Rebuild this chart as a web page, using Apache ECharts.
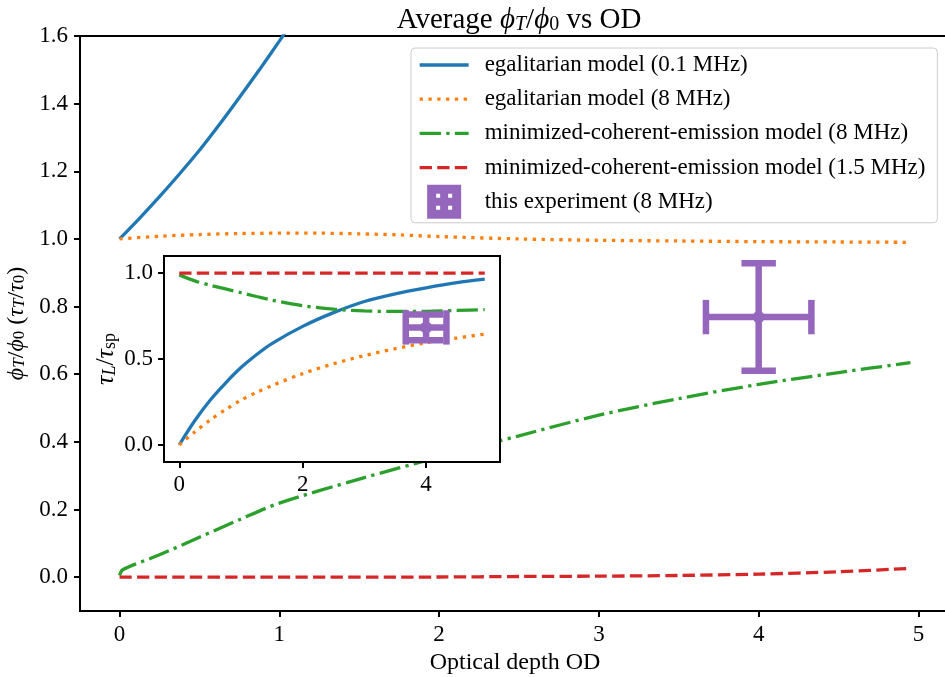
<!DOCTYPE html>
<html><head><meta charset="utf-8">
<script src="https://cdn.jsdelivr.net/npm/echarts@6/dist/echarts.min.js"></script>
<style>html,body{margin:0;padding:0;background:#fff}#c{width:945px;height:677px}</style>
</head><body><div id="c"></div>
<script>
// ---------- data ----------
// main axes: average phi_T/phi_0 vs optical depth
const odBlueMain   = [0, 0.125, 0.25, 0.375, 0.5, 0.625, 0.75, 0.875, 1.0, 1.125, 1.25];
const egal01Main   = [1.0, 1.061, 1.125, 1.192, 1.262, 1.338, 1.418, 1.5, 1.585, 1.672, 1.76];
const odOrangeMain = [0, 0.25, 0.5, 0.75, 1, 1.25, 1.5, 1.75, 2, 2.5, 3, 3.5, 4, 4.5, 4.95];
const egal8Main    = [1.0, 1.008, 1.013, 1.016, 1.017, 1.017, 1.015, 1.012, 1.007, 1.0, 0.996, 0.994, 0.992, 0.991, 0.99];
const odGreenMain  = [0, 0.02, 0.25, 0.5, 0.75, 1, 1.5, 2, 2.5, 3, 3.5, 4, 4.5, 4.95];
const mce8Main     = [0.005, 0.022, 0.066, 0.118, 0.17, 0.219, 0.29, 0.355, 0.418, 0.479, 0.528, 0.57, 0.605, 0.634];
const odRedMain    = [0, 1, 2, 2.5, 3, 3.5, 4, 4.5, 4.95];
const mce15Main    = [0, 0, 0.0005, 0.002, 0.003, 0.005, 0.009, 0.016, 0.026];
const expMain      = [[4.0, 0.769, 0.33, 0.159]]; // [OD, value, OD error, value error]

// inset: tau_L / tau_sp vs optical depth
const odInset      = [0, 0.25, 0.5, 0.75, 1, 1.25, 1.5, 2, 2.5, 3, 3.5, 4, 4.5, 4.95];
const egal01Inset  = [0, 0.14, 0.26, 0.36, 0.45, 0.525, 0.59, 0.69, 0.77, 0.835, 0.88, 0.915, 0.945, 0.965];
const egal8Inset   = [0, 0.075, 0.145, 0.205, 0.26, 0.305, 0.345, 0.415, 0.472, 0.52, 0.56, 0.595, 0.622, 0.645];
const mce8Inset    = [0.99, 0.955, 0.93, 0.908, 0.886, 0.864, 0.843, 0.81, 0.79, 0.78, 0.777, 0.778, 0.783, 0.788];
const odRedInset   = [0, 4.95];
const mce15Inset   = [1.0, 1.0];
const expInset     = [[4.0, 0.684, 0.33, 0.075]];

// ticks
const xTicksMain  = [0, 1, 2, 3, 4, 5];
const yTicksMain  = [0, 0.2, 0.4, 0.6, 0.8, 1.0, 1.2, 1.4, 1.6];
const xTicksInset = [0, 2, 4];
const yTicksInset = [0, 0.5, 1.0];

const names = [
  'egalitarian model (0.1 MHz)',
  'egalitarian model (8 MHz)',
  'minimized-coherent-emission model (8 MHz)',
  'minimized-coherent-emission model (1.5 MHz)',
  'this experiment (8 MHz)'
];

// ---------- styling ----------
const FONT = '"Liberation Serif", "DejaVu Serif", serif';
const C = { blue: '#1f77b4', orange: '#ff7f0e', green: '#2ca02c', red: '#d62728', purple: '#9467bd' };
const LW = 3.3;
const DASH = { dotted: [3.3, 5.5], dashed: [12.3, 5.3], dashdot: [21.3, 5.3, 3.3, 5.3] };

const pairs = (xs, ys) => xs.map((x, i) => [x, ys[i]]);

function richSet(fs, sfs) {
  return {
    r:   { fontFamily: FONT, fontSize: fs, lineHeight: fs, verticalAlign: 'middle', color: '#000' },
    mi:  { fontFamily: FONT, fontSize: fs, lineHeight: fs, verticalAlign: 'middle', fontStyle: 'italic', color: '#000' },
    sub: { fontFamily: FONT, fontSize: sfs, lineHeight: Math.round(fs * 0.38), verticalAlign: 'bottom', fontStyle: 'italic', color: '#000' },
    sub0:{ fontFamily: FONT, fontSize: sfs, lineHeight: Math.round(fs * 0.38), verticalAlign: 'bottom', color: '#000' }
  };
}

function errorBarRender(params, api) {
  const x = api.value(0), y = api.value(1), ex = api.value(2), ey = api.value(3);
  const c = api.coord([x, y]);
  const l = api.coord([x - ex, y]), r = api.coord([x + ex, y]);
  const t = api.coord([x, y + ey]), b = api.coord([x, y - ey]);
  const cap = 17.2;
  const st = { stroke: C.purple, lineWidth: 6.5 };
  const ln = (x1, y1, x2, y2) => ({ type: 'line', shape: { x1, y1, x2, y2 }, style: st });
  return {
    type: 'group',
    children: [
      ln(l[0], c[1], r[0], c[1]),
      ln(c[0], t[1], c[0], b[1]),
      ln(c[0] - cap, t[1], c[0] + cap, t[1]),
      ln(c[0] - cap, b[1], c[0] + cap, b[1]),
      ln(l[0], c[1] - cap, l[0], c[1] + cap),
      ln(r[0], c[1] - cap, r[0], c[1] + cap),
      { type: 'circle', shape: { cx: c[0], cy: c[1], r: 6 }, style: { fill: C.purple } }
    ]
  };
}

function lineSeries(name, data, color, dash, axisIdx, z) {
  return {
    type: 'line', name, data, xAxisIndex: axisIdx, yAxisIndex: axisIdx,
    symbol: 'none', z, clip: true, smooth: 0.3,
    lineStyle: { color, width: LW, type: dash || 'solid' },
    itemStyle: { color }
  };
}

const tickStyle = { show: true, length: 6, lineStyle: { color: '#000', width: 2 } };
const labelBase = { fontFamily: FONT, fontSize: 23, color: '#000' };

const ERR_ICON = 'path://M0,0H34V34H0Z M9,9V13H13V9Z M21,9V13H25V9Z M9,21V25H13V21Z M21,21V25H25V21Z';

const option = {
  animation: false,
  backgroundColor: '#fff',
  title: {
    text: '{r|Average }{mi|ϕ}{sub|T}{r|/}{mi|ϕ}{sub0|0}{r| vs OD}',
    left: 514, top: 1, textAlign: 'center',
    textStyle: { fontFamily: FONT, fontSize: 29, fontWeight: 'normal', color: '#000', rich: richSet(29, 20) }
  },
  legend: {
    orient: 'vertical', left: 411, top: 48,
    padding: [0, 12, 4, 7],
    itemWidth: 49, itemHeight: 34, itemGap: 0.2,
    backgroundColor: 'rgba(255,255,255,0.8)', borderColor: '#cccccc', borderWidth: 1, borderRadius: 4,
    selectedMode: false,
    lineStyle: { width: LW },
    textStyle: { fontFamily: FONT, fontSize: 23, lineHeight: 34, color: '#000', padding: [0, 0, 0, 11] },
    data: [
      { name: names[0], itemStyle: { opacity: 0 } },
      { name: names[1], itemStyle: { opacity: 0 } },
      { name: names[2], itemStyle: { opacity: 0 } },
      { name: names[3], itemStyle: { opacity: 0 } },
      { name: names[4], icon: ERR_ICON }
    ]
  },
  grid: [
    { left: 80, top: 36, width: 870, height: 575, show: true, backgroundColor: 'transparent', borderColor: '#000', borderWidth: 2, outerBoundsMode: 'none', containLabel: false },
    { left: 164, top: 256, width: 336, height: 206, show: true, backgroundColor: '#fff', borderColor: '#000', borderWidth: 2, z: 10, outerBoundsMode: 'none', containLabel: false }
  ],
  xAxis: [
    {
      gridIndex: 0, type: 'value', min: -0.2475, max: 5.1975,
      axisLine: { show: false, onZero: false },
      axisTick: Object.assign({ customValues: xTicksMain }, tickStyle),
      axisLabel: Object.assign({ customValues: xTicksMain, margin: 12, formatter: v => String(v) }, labelBase),
      splitLine: { show: false },
      name: 'Optical depth OD', nameLocation: 'middle', nameGap: 37,
      nameTextStyle: { fontFamily: FONT, fontSize: 24, color: '#000' }
    },
    {
      gridIndex: 1, type: 'value', min: -0.2475, max: 5.1975, z: 11,
      axisLine: { show: false, onZero: false },
      axisTick: Object.assign({ customValues: xTicksInset }, tickStyle),
      axisLabel: Object.assign({ customValues: xTicksInset, margin: 11, formatter: v => String(v) }, labelBase),
      splitLine: { show: false }
    }
  ],
  yAxis: [
    {
      gridIndex: 0, type: 'value', min: -0.1, max: 1.6,
      axisLine: { show: false, onZero: false },
      axisTick: Object.assign({ customValues: yTicksMain }, tickStyle),
      axisLabel: Object.assign({ customValues: yTicksMain, margin: 12, formatter: v => v.toFixed(1) }, labelBase),
      splitLine: { show: false },
      name: '{mi|ϕ}{sub|T}{r|/}{mi|ϕ}{sub0|0}{r| (}{mi|τ}{sub|T}{r|/}{mi|τ}{sub0|0}{r|)}',
      nameLocation: 'middle', nameRotate: 90, nameGap: 45,
      nameTextStyle: { fontFamily: FONT, fontSize: 24, color: '#000', rich: richSet(24, 17) }
    },
    {
      gridIndex: 1, type: 'value', min: -0.1, max: 1.1, z: 11,
      axisLine: { show: false, onZero: false },
      axisTick: Object.assign({ customValues: yTicksInset }, tickStyle),
      axisLabel: Object.assign({ customValues: yTicksInset, margin: 11, formatter: v => v.toFixed(1) }, labelBase),
      splitLine: { show: false },
      name: '{mi|τ}{sub|L}{r|/}{mi|τ}{sub0|sp}',
      nameLocation: 'middle', nameRotate: 90, nameGap: 45,
      nameTextStyle: { fontFamily: FONT, fontSize: 26, color: '#000', rich: richSet(26, 18) }
    }
  ],
  series: [
    lineSeries(names[0], pairs(odBlueMain, egal01Main), C.blue, null, 0, 2),
    lineSeries(names[1], pairs(odOrangeMain, egal8Main), C.orange, DASH.dotted, 0, 2),
    lineSeries(names[2], pairs(odGreenMain, mce8Main), C.green, DASH.dashdot, 0, 2),
    lineSeries(names[3], pairs(odRedMain, mce15Main), C.red, DASH.dashed, 0, 2),
    {
      type: 'custom', name: names[4], xAxisIndex: 0, yAxisIndex: 0, z: 3,
      data: expMain, encode: { x: 0, y: 1 }, renderItem: errorBarRender,
      itemStyle: { color: C.purple }
    },
    lineSeries(names[0], pairs(odInset, egal01Inset), C.blue, null, 1, 12),
    lineSeries(names[1], pairs(odInset, egal8Inset), C.orange, DASH.dotted, 1, 12),
    lineSeries(names[2], pairs(odInset, mce8Inset), C.green, DASH.dashdot, 1, 12),
    lineSeries(names[3], pairs(odRedInset, mce15Inset), C.red, DASH.dashed, 1, 12),
    {
      type: 'custom', name: names[4], xAxisIndex: 1, yAxisIndex: 1, z: 13,
      data: expInset, encode: { x: 0, y: 1 }, renderItem: errorBarRender,
      itemStyle: { color: C.purple }
    }
  ]
};

const chart = echarts.init(document.getElementById('c'), null, { renderer: 'canvas' });
chart.setOption(option);
</script>
</body></html>
